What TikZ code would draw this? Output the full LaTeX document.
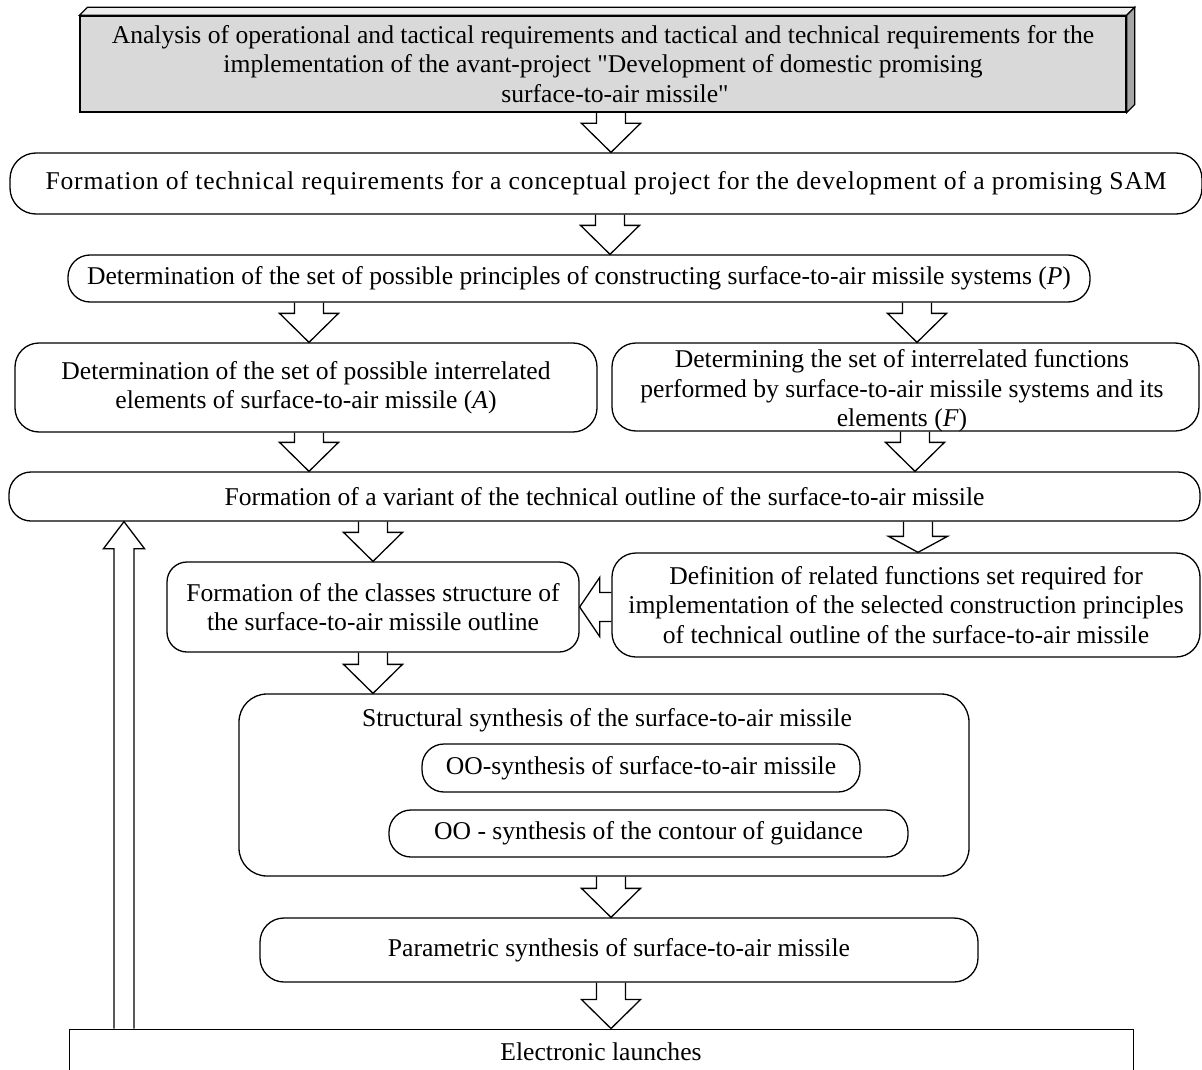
\documentclass[tikz,border=0pt]{standalone}
\usepackage{fontspec}
\setmainfont{Liberation Serif}[Ligatures=TeXOff]
\usetikzlibrary{calc}
\tikzset{
  bx/.style={draw, line width=1.3pt, rounded corners=#1, inner sep=0pt, align=center},
  bx/.default=24pt,
  txt/.style={inner sep=0pt, align=center},
  blk/.style={draw, line width=1.3pt, line join=miter},
}
\newcommand{\blkdown}[3]{\draw[blk] let \p1=(#1), \p2=(#2) in
  (\x2-14.5pt,\y1) -- (\x2-14.5pt,\y2+#3pt) -- (\x2-29.5pt,\y2+#3pt) -- (\x2,\y2)
  -- (\x2+29.5pt,\y2+#3pt) -- (\x2+14.5pt,\y2+#3pt) -- (\x2+14.5pt,\y1);}
\newcommand{\blkup}[2]{\draw[blk] let \p1=(#1), \p2=(#2) in
  (\x2-10pt,\y1) -- (\x2-10pt,\y2-27pt) -- (\x2-20.5pt,\y2-27pt) -- (\x2,\y2)
  -- (\x2+20.5pt,\y2-27pt) -- (\x2+10pt,\y2-27pt) -- (\x2+10pt,\y1);}
\newcommand{\blkleft}[2]{\draw[blk] let \p1=(#1), \p2=(#2) in
  (\x1,\y2+14.5pt) -- (\x2+20pt,\y2+14.5pt) -- (\x2+20pt,\y2+29.5pt) -- (\x2,\y2)
  -- (\x2+20pt,\y2-29.5pt) -- (\x2+20pt,\y2-14.5pt) -- (\x1,\y2-14.5pt);}
\begin{document}
\begin{tikzpicture}[x=1pt,y=-1pt,font=\fontsize{25.6}{29.3}\selectfont]
\useasboundingbox (0,0) rectangle (1202,1070);
% arrow x positions
\coordinate (xa) at (611,0);
\coordinate (xb) at (610,0);
\coordinate (xc) at (309,0);
\coordinate (xd) at (917,0);
\coordinate (xe) at (915,0);
\coordinate (xf) at (373,0);
\coordinate (xg) at (918,0);
\coordinate (xh) at (124,0);
% top 3D box
\node[bx=0pt, fill=black!15, minimum width=1046pt, minimum height=96pt] (top) at (603,64)
  {Analysis of operational and tactical requirements and tactical and technical requirements for the\\
   implementation of the avant-project "Development of domestic promising\\
   \hspace*{24pt}surface-to-air missile"};
\draw[line width=1.3pt, fill=black!7] (top.north west) -- ++(8,-8) -- ($(top.north east)+(8,-8)$) -- (top.north east) -- cycle;
\draw[line width=1.3pt, fill=black!35] (top.north east) -- ++(8,-8) -- ($(top.south east)+(8,-8)$) -- (top.south east) -- cycle;
% boxes
\node[bx=26pt, minimum width=1192pt, minimum height=61pt, font=\fontsize{25.6}{29.3}\selectfont\addfontfeature{LetterSpace=3.2}] (req) at (606,183.5)
  {Formation of technical requirements for a conceptual project for the development of a promising SAM};
\node[bx=22pt, minimum width=1022pt, minimum height=47pt] (prin) at (579,278.5)
  {Determination of the set of possible principles of constructing surface-to-air missile systems (\textit{P})};
\node[bx=24pt, minimum width=582pt, minimum height=89pt] (elem) at (306,387.5)
  {Determination of the set of possible interrelated\\ elements of surface-to-air missile (\textit{A})};
\node[bx=24pt, minimum width=587pt, minimum height=88pt] (func) at (905.5,387) {};
\node[txt] (functxt) at (902,391)
  {Determining the set of interrelated functions\\ performed by surface-to-air missile systems and its\\ elements (\textit{F})};
\node[bx=22pt, minimum width=1191pt, minimum height=49pt] (var) at (604.5,496.5)
  {Formation of a variant of the technical outline of the surface-to-air missile};
\node[bx=20pt, minimum width=412pt, minimum height=90pt] (cls) at (373,607)
  {Formation of the classes structure of\\ the surface-to-air missile outline};
\node[bx=24pt, minimum width=588pt, minimum height=104pt] (defn) at (906,605)
  {Definition of related functions set required for\\ implementation of the selected construction principles\\ of technical outline of the surface-to-air missile};
\node[bx=28pt, minimum width=730pt, minimum height=182pt] (struct) at (604,785) {};
\node[txt] (stitle) at (607,720) {Structural synthesis of the surface-to-air missile};
\node[bx=22pt, minimum width=438pt, minimum height=48pt] (oo1) at (641,768)
  {OO-synthesis of surface-to-air missile};
\node[bx=22pt, minimum width=519pt, minimum height=47pt] (oo2) at (648.5,833.5)
  {OO - synthesis of the contour of guidance};
\node[bx=24pt, minimum width=718pt, minimum height=64pt] (par) at (619,950)
  {Parametric synthesis of surface-to-air missile};
\node[draw, line width=0.9pt, inner sep=0pt, minimum width=1064pt, minimum height=62pt] (elaunch) at (601,1060) {};
\node[txt] (eltxt) at (601,1052) {Electronic launches};
% block arrows
\blkdown{top.south -| xa}{req.north -| xa}{29}
\blkdown{req.south -| xb}{prin.north -| xb}{29}
\blkdown{prin.south -| xc}{elem.north -| xc}{29}
\blkdown{prin.south -| xd}{func.north -| xd}{29}
\blkdown{elem.south -| xc}{var.north -| xc}{29}
\blkdown{func.south -| xe}{var.north -| xe}{29}
\blkdown{var.south -| xf}{cls.north -| xf}{29}
\blkdown{var.south -| xg}{defn.north -| xg}{16}
\blkdown{cls.south -| xf}{struct.north -| xf}{29}
\blkdown{struct.south -| xa}{par.north -| xa}{29}
\blkdown{par.south -| xa}{elaunch.north -| xa}{29}
\blkleft{defn.west}{cls.east}
\blkup{elaunch.north -| xh}{var.south -| xh}
\end{tikzpicture}
\end{document}
